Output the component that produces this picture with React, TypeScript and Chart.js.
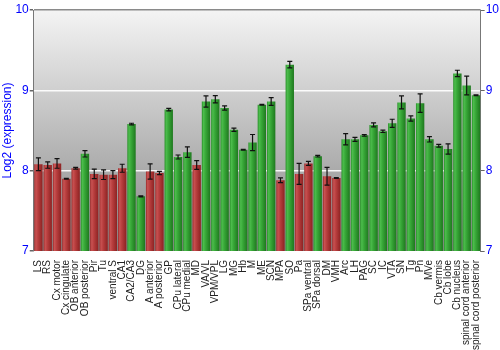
import React, { useEffect, useRef } from "react";
import { Chart, registerables } from "chart.js";

Chart.register(...registerables);

const categories = [
  "LS", "RS", "Cx motor", "Cx cingulate", "OB anterior", "OB posterior", "Pir", "Tu",
  "ventral S", "CA1", "CA2/CA3", "DG", "A anterior", "A posterior", "GP", "CPu lateral",
  "CPu medial", "MD", "VA/VL", "VPM/VPL", "LG", "MG", "Hb", "M", "ME", "SCN", "MPA",
  "SO", "Pa", "SPa ventral", "SPa dorsal", "DM", "VMH", "Arc", "LH", "PAG", "SC", "IC",
  "VTA", "SN", "Tg", "Pn", "MVe", "Cb vermis", "Cb lobe", "Cb nucleus",
  "spinal cord anterior", "spinal cord posterior",
];

const values = [
  8.08, 8.07, 8.09, 7.90, 8.03, 8.21, 7.96, 7.95,
  7.95, 8.03, 8.58, 7.68, 7.99, 7.97, 8.76, 8.17,
  8.23, 8.07, 8.86, 8.89, 8.78, 8.51, 8.26, 8.35, 8.82, 8.86, 7.88,
  9.32, 7.96, 8.09, 8.18, 7.93, 7.91, 8.39, 8.39, 8.44, 8.57, 8.49,
  8.59, 8.85, 8.65, 8.84, 8.39, 8.31, 8.27, 9.21,
  9.06, 8.94,
];

const errors = [
  0.08, 0.04, 0.06, 0.005, 0.01, 0.04, 0.06, 0.06,
  0.05, 0.05, 0.01, 0.005, 0.095, 0.02, 0.015, 0.025,
  0.065, 0.055, 0.07, 0.045, 0.027, 0.02, 0.005, 0.1, 0.005, 0.048, 0.03,
  0.04, 0.13, 0.025, 0.01, 0.11, 0.005, 0.07, 0.025, 0.01, 0.025, 0.015,
  0.05, 0.08, 0.033, 0.115, 0.033, 0.017, 0.064, 0.04,
  0.116, 0.005,
];

// "r" = red (low), "g" = green (high)
const groups = [
  "r", "r", "r", "r", "r", "g", "r", "r",
  "r", "r", "g", "g", "r", "r", "g", "g",
  "g", "r", "g", "g", "g", "g", "g", "g", "g", "g", "r",
  "g", "r", "r", "g", "r", "r", "g", "g", "g", "g", "g",
  "g", "g", "g", "g", "g", "g", "g", "g",
  "g", "g",
];

const yTicks = [7, 8, 9, 10];

const BAR_PCT = 0.9;

const barFill = (ctx: any) => {
  const i = ctx.dataIndex;
  const red = groups[i] === "r";
  const flat = red ? "#b03838" : "#34a034";
  const chart = ctx.chart;
  const xs = chart.scales && chart.scales.x;
  if (!xs || ctx.type !== "data") return flat;
  const x = xs.getPixelForValue(i);
  const w = (xs.width / categories.length) * BAR_PCT;
  if (!isFinite(x) || !isFinite(w) || w <= 0) return flat;
  const g = chart.ctx.createLinearGradient(x - w / 2, 0, x + w / 2, 0);
  if (red) {
    g.addColorStop(0, "#9a2a2a");
    g.addColorStop(0.2, "#c85252");
    g.addColorStop(0.45, "#b83e3e");
    g.addColorStop(1, "#8c2222");
  } else {
    g.addColorStop(0, "#2a902a");
    g.addColorStop(0.2, "#4cbc4c");
    g.addColorStop(0.45, "#38a838");
    g.addColorStop(1, "#1e781e");
  }
  return g;
};

const bgPlugin = {
  id: "bgGradient",
  beforeDraw(chart: any) {
    const { ctx, chartArea } = chart;
    if (!chartArea) return;
    const g = ctx.createLinearGradient(0, chartArea.top, 0, chartArea.bottom);
    g.addColorStop(0, "#f4f4f4");
    g.addColorStop(1, "#868686");
    ctx.save();
    ctx.fillStyle = g;
    ctx.fillRect(chartArea.left, chartArea.top, chartArea.right - chartArea.left, chartArea.bottom - chartArea.top);
    ctx.restore();
  },
};

const errPlugin = {
  id: "errorBars",
  afterDatasetsDraw(chart: any) {
    const { ctx } = chart;
    const xs = chart.scales.x;
    const ys = chart.scales.y;
    ctx.save();
    ctx.strokeStyle = "#111";
    ctx.lineWidth = 1.2;
    values.forEach((v, i) => {
      const e = errors[i];
      const x = xs.getPixelForValue(i);
      const y1 = ys.getPixelForValue(v + e);
      const y2 = ys.getPixelForValue(v - e);
      ctx.beginPath();
      ctx.moveTo(x, y1);
      ctx.lineTo(x, y2);
      ctx.moveTo(x - 2.5, y1);
      ctx.lineTo(x + 2.5, y1);
      ctx.moveTo(x - 2.5, y2);
      ctx.lineTo(x + 2.5, y2);
      ctx.stroke();
    });
    ctx.restore();
  },
};

export default function App() {
  const ref = useRef<HTMLCanvasElement>(null);
  useEffect(() => {
    if (!ref.current) return;
    Chart.defaults.font.family = "'Liberation Sans', Arial, sans-serif";
    const gridColor = (c: any) => {
      const v = c.tick && c.tick.value;
      if (v === 8 || v === 9) return "rgba(255,255,255,0.9)";
      if (v === 10) return "#8a8a8a";
      return "rgba(0,0,0,0)";
    };
    const chart = new Chart(ref.current, {
      type: "bar",
      data: {
        labels: categories,
        datasets: [
          {
            data: values,
            backgroundColor: barFill,
            borderWidth: 0,
            barPercentage: BAR_PCT,
            categoryPercentage: 1,
          },
        ],
      },
      options: {
        responsive: false,
        animation: false,
        layout: { padding: { top: 10, right: 0, left: 0, bottom: 0 } },
        plugins: { legend: { display: false }, tooltip: { enabled: false } },
        scales: {
          x: {
            grid: { display: false },
            border: { display: false },
            afterFit: (s: any) => {
              s.height = 99;
            },
            ticks: {
              autoSkip: false,
              maxRotation: 90,
              minRotation: 90,
              padding: 1,
              color: "#222",
              font: { size: 10 },
            },
          },
          y: {
            min: 7,
            max: 10,
            afterBuildTicks: (s: any) => {
              s.ticks = yTicks.map((v) => ({ value: v }));
            },
            grid: { color: gridColor, tickColor: "#666", tickLength: 4, lineWidth: 1.5 },
            border: { display: true, color: "#777" },
            ticks: { color: "#0000ff", font: { size: 12 }, padding: 1 },
            title: {
              display: true,
              text: "Log2 (expression)",
              color: "#0000ff",
              font: { size: 12 },
              padding: { top: 0, bottom: 0 },
            },
          },
          y2: {
            position: "right",
            min: 7,
            max: 10,
            afterBuildTicks: (s: any) => {
              s.ticks = yTicks.map((v) => ({ value: v }));
            },
            grid: { drawOnChartArea: false, tickColor: "#666", tickLength: 4 },
            border: { display: true, color: "#777" },
            ticks: { color: "#0000ff", font: { size: 12 }, padding: 1 },
          },
        },
      },
      plugins: [bgPlugin, errPlugin],
    } as any);
    return () => chart.destroy();
  }, []);
  return (
    <div style={{ position: "absolute", left: 0, top: 0, width: 500, height: 350 }}>
      <canvas ref={ref} width={500} height={350} />
    </div>
  );
}
